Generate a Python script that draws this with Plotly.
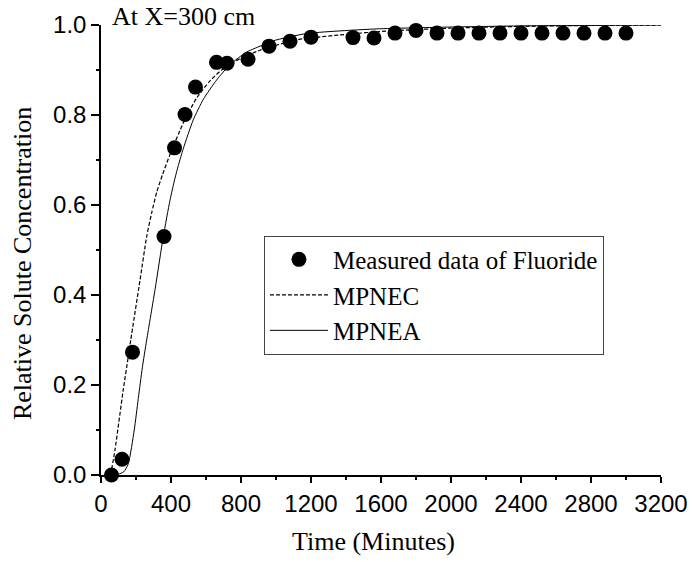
import plotly.graph_objects as go

# Measured data of Fluoride
t_meas = [60, 120, 180, 360, 420, 480, 540, 660, 720, 840, 960, 1080, 1200,
          1440, 1560, 1680, 1800, 1920, 2040, 2160, 2280, 2400, 2520, 2640,
          2760, 2880, 3000]
c_meas = [0.0, 0.035, 0.273, 0.530, 0.727, 0.801, 0.862, 0.917, 0.915, 0.924,
          0.953, 0.964, 0.973, 0.972, 0.971, 0.982, 0.988, 0.982, 0.982, 0.982,
          0.982, 0.982, 0.982, 0.982, 0.982, 0.982, 0.982]

# MPNEC (dashed)
t_mpnec = [55, 80, 127, 156, 170, 223, 261, 290, 318, 352, 394, 470, 547, 623,
           699, 794, 909, 1118, 1366, 1651, 2000, 2400, 2800, 3200]
c_mpnec = [0.0, 0.056, 0.189, 0.263, 0.300, 0.433, 0.530, 0.583, 0.628, 0.668,
           0.712, 0.782, 0.838, 0.876, 0.903, 0.925, 0.944, 0.967, 0.978, 0.987,
           0.993, 0.997, 0.999, 1.0]

# MPNEA (solid)
t_mpnea = [60, 100, 130, 156, 190, 213, 236, 261, 310, 356, 394, 423, 442, 470,
           527, 585, 661, 737, 833, 928, 985, 1175, 1556, 1937, 2400, 2800, 3200]
c_mpnea = [0.0, 0.002, 0.007, 0.025, 0.100, 0.170, 0.238, 0.300, 0.415, 0.530,
           0.610, 0.660, 0.688, 0.725, 0.789, 0.835, 0.878, 0.912, 0.940, 0.956,
           0.965, 0.981, 0.991, 0.995, 0.998, 0.999, 1.0]

x_ticks = [0, 400, 800, 1200, 1600, 2000, 2400, 2800, 3200]
y_ticks = [0.0, 0.2, 0.4, 0.6, 0.8, 1.0]

serif = "Liberation Serif, Times New Roman, serif"
sans = "Liberation Sans, Arial, sans-serif"

fig = go.Figure()
fig.add_trace(go.Scatter(
    x=t_meas, y=c_meas, mode="markers", name="Measured data of Fluoride",
    marker=dict(color="black", size=15, symbol="circle"), cliponaxis=False))
fig.add_trace(go.Scatter(
    x=t_mpnec, y=c_mpnec, mode="lines", name="MPNEC",
    line=dict(color="black", width=1.2, dash="4px,2px", shape="spline",
              smoothing=0.6),
    cliponaxis=False))
fig.add_trace(go.Scatter(
    x=t_mpnea, y=c_mpnea, mode="lines", name="MPNEA",
    line=dict(color="black", width=1, shape="spline", smoothing=0.6),
    cliponaxis=False))

fig.update_layout(
    width=692, height=562,
    margin=dict(l=101, r=31, t=25, b=87),
    paper_bgcolor="white", plot_bgcolor="white",
    showlegend=True,
    legend=dict(x=0.291, y=0.532, xanchor="left", yanchor="top",
                bordercolor="#444", borderwidth=1, bgcolor="white",
                font=dict(family=serif, size=25, color="black"),
                itemwidth=58, tracegroupgap=0),
    annotations=[
        dict(text="At X=300 cm", xref="paper", yref="paper", x=0.016, y=1.018,
             xanchor="left", yanchor="middle", showarrow=False,
             font=dict(family=serif, size=26, color="black")),
        dict(text="Time (Minutes)", xref="paper", yref="paper", x=0.487, y=-0.147,
             xanchor="center", yanchor="middle", showarrow=False,
             font=dict(family=serif, size=26, color="black")),
        dict(text="Relative Solute Concentration", xref="paper", yref="paper",
             x=-0.139, y=0.469, xanchor="center", yanchor="middle",
             showarrow=False, textangle=-90,
             font=dict(family=serif, size=26, color="black")),
    ],
)

fig.update_xaxes(
    range=[0, 3200], tickvals=x_ticks, ticks="outside", ticklen=6,
    tickwidth=1.5, tickcolor="black", showline=True, linewidth=1.5,
    linecolor="black", showgrid=False, zeroline=False, automargin=False,
    tickfont=dict(family=sans, size=24, color="black"),
    minor=dict(dtick=200, tick0=0, ticks="outside", ticklen=3, tickwidth=1.5,
               tickcolor="black", showgrid=False))
fig.update_yaxes(
    range=[0, 1.0], tickvals=y_ticks, tickformat=".1f", ticks="outside",
    ticklen=8, tickwidth=1.5, tickcolor="black", showline=True, linewidth=1.5,
    linecolor="black", showgrid=False, zeroline=False, automargin=False,
    tickfont=dict(family=sans, size=24, color="black"),
    minor=dict(dtick=0.1, tick0=0, ticks="outside", ticklen=3, tickwidth=1.5,
               tickcolor="black", showgrid=False))

fig.write_html("out.html")
